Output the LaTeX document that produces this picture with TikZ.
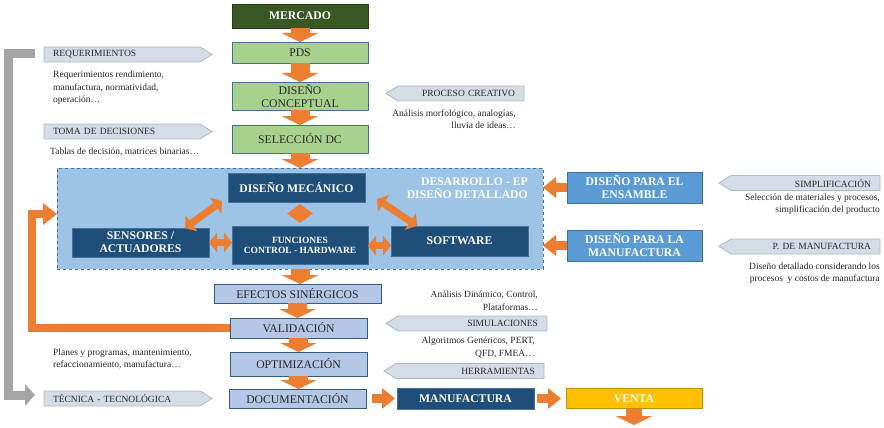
\documentclass[tikz,border=0pt]{standalone}
\usepackage{fontspec}
\setmainfont{Liberation Serif}
\usepackage{xcolor}
\usepackage{tikz}
\usetikzlibrary{shapes.geometric, shapes.symbols, arrows.meta, positioning, calc}

\definecolor{mktgreen}{HTML}{385723}
\definecolor{stagegreen}{HTML}{A9D18E}
\definecolor{edgeblue}{HTML}{41719C}
\definecolor{panelblue}{HTML}{9DC3E6}
\definecolor{navy}{HTML}{1F4E79}
\definecolor{midblue}{HTML}{5B9BD5}
\definecolor{paleblue}{HTML}{B4C7E7}
\definecolor{tagfill}{HTML}{D6DCE5}
\definecolor{tagedge}{HTML}{ADB9CA}
\definecolor{flow}{HTML}{ED7D31}
\definecolor{loopgray}{HTML}{A5A5A5}
\definecolor{gold}{HTML}{FFC000}
\definecolor{ink}{HTML}{262626}

\begin{document}
\begin{tikzpicture}[
    x=1pt, y=-1pt,
    font=\fontsize{9.5}{12.5}\selectfont,
    market/.style={rectangle, draw=mktgreen!70!black, fill=mktgreen, text=white, font=\fontsize{11.7}{13}\selectfont\bfseries, minimum width=136pt, minimum height=24pt, inner sep=0pt, outer sep=0pt},
    stage/.style={rectangle, draw=edgeblue, line width=0.8pt, fill=stagegreen, text=ink, font=\fontsize{11.7}{13}\selectfont, minimum width=136pt, inner sep=0pt, outer sep=0pt, align=center},
    check/.style={stage, fill=paleblue, draw=edgeblue!80!black, minimum width=137pt},
    panel/.style={rectangle, draw=edgeblue, dashed, line width=0.7pt, fill=panelblue, minimum width=486pt, minimum height=101pt, inner sep=0pt, outer sep=0pt},
    block/.style={rectangle, draw=edgeblue, line width=0.6pt, fill=navy, text=white, font=\fontsize{11.7}{13}\selectfont\bfseries, minimum width=137pt, inner sep=0pt, outer sep=0pt, align=center},
    guide/.style={block, fill=midblue, minimum width=135pt, minimum height=31pt},
    paneltitle/.style={text=white, font=\fontsize{11.7}{12.5}\selectfont\bfseries, align=right, inner sep=0pt, anchor=east},
    tagR/.style={signal, signal to=east, signal pointer angle=64, draw=tagedge, line width=0.8pt, fill=tagfill, text=ink, minimum height=15pt, inner xsep=9pt, inner ysep=1pt, outer sep=0pt, text width=138pt, align=left, anchor=west},
    tagL/.style={tagR, signal to=west, align=right, anchor=east},
    note/.style={text=ink, inner sep=0pt},
    downflow/.style={draw=flow, line width=19pt, -{Triangle[length=9pt, width=37pt, line width=0pt]}},
    sideflow/.style={draw=flow, line width=9pt, -{Triangle[length=13pt, width=21pt, line width=0pt]}},
    dblflow/.style={draw=flow, line width=7pt, {Triangle[length=8pt, width=20pt, line width=0pt]}-{Triangle[length=8pt, width=20pt, line width=0pt]}},
    fbflow/.style={draw=flow, line width=8pt, line join=miter, -{Triangle[length=14pt, width=22pt, line width=0pt]}},
    loopline/.style={draw=loopgray, line width=9pt, line join=miter, -{Triangle[length=10pt, width=22pt, line width=0pt]}}
]

\path[use as bounding box, fill=white] (0,0) rectangle (884,428);

% Main column
\node (mercado) [market] at (300,16) {MERCADO};
\node (pds) [stage, below=14pt of mercado, minimum height=21pt] {PDS};
\node (dc) [stage, below=19pt of pds, minimum height=28pt] {DISEÑO\\CONCEPTUAL};
\node (sdc) [stage, below=15pt of dc, minimum height=28pt] {SELECCIÓN DC};
\node (panel) [panel, below=15pt of sdc] {};
\node (efectos) [check, below=15pt of panel, xshift=-2.5pt, minimum width=167pt, minimum height=19pt] {EFECTOS SINÉRGICOS};
\node (valid) [check, below=15pt of efectos, xshift=1pt, minimum height=20pt] {VALIDACIÓN};
\node (opt) [check, below=14pt of valid, minimum height=24pt] {OPTIMIZACIÓN};
\node (doc) [check, below=13pt of opt, xshift=-1pt, minimum height=19pt] {DOCUMENTACIÓN};
\node (manuf) [block, right=31pt of doc, minimum height=21pt] {MANUFACTURA};
\node (venta) [block, fill=gold, draw=gold!75!black, right=32pt of manuf, minimum width=136pt, minimum height=20pt] {VENTA};
\coordinate (ventaout) at (634,425);

% Detailed design panel
\node (dm) [block, below=5pt of panel.north, xshift=-3.5pt, minimum height=29pt] {DISEÑO MECÁNICO};
\node (func) [block, font=\fontsize{9.5}{10.5}\selectfont\bfseries, minimum width=136pt, minimum height=38pt] at (300,245.5) {FUNCIONES\\CONTROL - HARDWARE};
\node (sens) [block, left=23pt of func, yshift=3pt, minimum height=29pt] {SENSORES /\\ACTUADORES};
\node (soft) [block, right=23pt of func, yshift=4.5pt, minimum height=30pt] {SOFTWARE};
\node (hub) [diamond, fill=flow, aspect=1.3, minimum width=26pt, minimum height=19pt, inner sep=0pt] at (300,213.5) {};
\node (detalle) [paneltitle] at (528,188) {DESARROLLO - EP\\DISEÑO DETALLADO};

% Design guides
\node (dpe) [guide] at (634.5,187.5) {DISEÑO PARA EL\\ENSAMBLE};
\node (dpm) [guide] at (634.5,245.5) {DISEÑO PARA LA\\MANUFACTURA};

% Tags and notes
\node (req) [tagR] at (44,54.5) {REQUERIMIENTOS};
\node (reqtxt) [note, anchor=west, align=left] at (53,88) {Requerimientos rendimiento,\\manufactura, normatividad,\\operación…};
\node (toma) [tagR] at (44,131.5) {TOMA DE DECISIONES};
\node (tomatxt) [note, anchor=west] at (50,152) {Tablas de decisión, matrices binarias…};
\node (tecnica) [tagR] at (44,398.5) {TÉCNICA - TECNOLÓGICA};
\node (planes) [note, anchor=west, align=left] at (53,359) {Planes y programas, mantenimiento,\\refaccionamiento, manufactura…};
\node (proceso) [tagL, text width=108pt] at (524,93.5) {PROCESO CREATIVO};
\node (proctxt) [note, anchor=east, align=right] at (516,119) {Análisis morfológico, analogías,\\lluvia de ideas…};
\node (simpl) [tagL, text width=131pt] at (880,183) {SIMPLIFICACIÓN};
\node (simpltxt) [note, anchor=east, align=right] at (880,204) {Selección de materiales y procesos,\\simplificación del producto};
\node (pman) [tagL, text width=131pt] at (880,246.5) {P. DE MANUFACTURA};
\node (pmantxt) [note, anchor=east, align=right] at (880,273) {Diseño detallado considerando los\\procesos\ \ y costos de manufactura};
\node (dintxt) [note, anchor=east, align=right] at (538,301) {Análisis Dinámico, Control,\\Plataformas…};
\node (simul) [tagL, text width=131pt] at (547,323.5) {SIMULACIONES};
\node (simultxt) [note, anchor=east, align=right] at (535,347.5) {Algoritmos Genéricos, PERT,\\QFD, FMEA…};
\node (herr) [tagL, text width=130pt] at (544,371) {HERRAMIENTAS};

% Loop coordinates
\coordinate (gstart) at (35,54);
\coordinate (gend) at (35,395);
\coordinate (fbside) at (32,0);

% Connections
\draw [downflow] (mercado.south) -- (mercado.south |- pds.north);
\draw [downflow] (pds.south) -- (pds.south |- dc.north);
\draw [downflow] (dc.south) -- (dc.south |- sdc.north);
\draw [downflow] (sdc.south) -- (sdc.south |- panel.north);
\draw [downflow] (panel.south) -- (panel.south |- efectos.north);
\draw [downflow] (efectos.south) -- (efectos.south |- valid.north);
\draw [downflow] (valid.south) -- (valid.south |- opt.north);
\draw [downflow] (opt.south) -- (opt.south |- doc.north);
\draw [sideflow, shorten <=6pt, shorten >=2pt] (doc.east) -- (manuf.west);
\draw [sideflow, shorten <=3pt, shorten >=5pt] (manuf.east) -- (manuf.east -| venta.west);
\draw [downflow, line width=16pt] (venta.south) -- (ventaout);
\draw [sideflow] (dpe.west) -- (dpe.west -| panel.east);
\draw [sideflow] (dpm.west) -- (dpm.west -| panel.east);
\draw [dblflow] (sens.east) -- (sens.east -| func.west);
\draw [dblflow] (func.east) -- (func.east -| soft.west);
\draw [dblflow] ($(sens.north)!0.65!(sens.north east)$) -- ([xshift=-6pt, yshift=1pt]dm.south west);
\draw [dblflow] ([xshift=12pt, yshift=3pt]dm.south east) -- ($(soft.north west)!0.19!(soft.north east)$);
\draw [fbflow] (valid.west) -- (valid.west -| fbside) |- ([yshift=4.5pt]panel.west);
\draw [loopline] (gstart) -- ++(-27,0) |- (gend);

\end{tikzpicture}
\end{document}
